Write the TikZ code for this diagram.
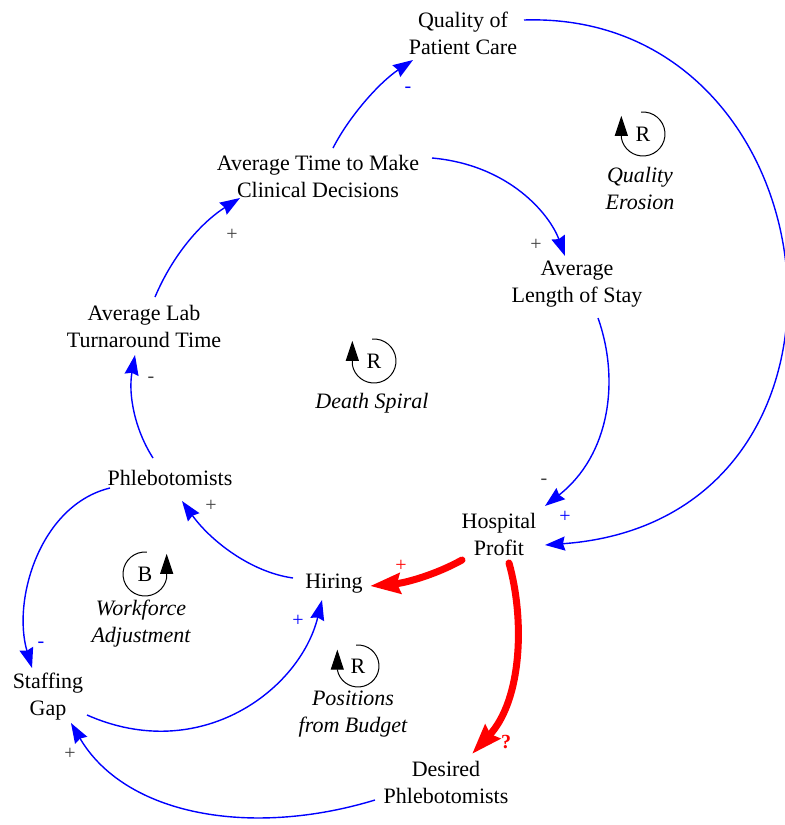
\documentclass[tikz,border=0pt]{standalone}
\usepackage{fontspec}
\setmainfont{Liberation Serif}
\usetikzlibrary{arrows.meta}
\begin{document}
\begin{tikzpicture}[x=0.5pt,y=-0.5pt,
  var/.style={align=center,inner sep=0pt,font=\fontsize{11}{13.5}\selectfont},
  lnk/.style={draw=blue,line width=0.7pt,-{Stealth[length=10pt,width=7pt,inset=1pt]}},
  bigred/.style={draw=red,line width=3.5pt,line cap=round,-{Stealth[length=15pt,width=10pt,inset=1.5pt]}},
  pol/.style={font=\fontsize{10}{12}\selectfont,text=black!75,inner sep=0pt},
  polb/.style={pol,text=blue},
  polr/.style={pol,text=red},
  loopname/.style={align=center,inner sep=0pt,font=\fontsize{11}{13.5}\selectfont\itshape},
  loopc/.style={draw=black,line width=0.5pt,-{Triangle[length=10pt,width=6.5pt]}},
  loopl/.style={inner sep=0pt,font=\fontsize{11}{13.5}\selectfont},
]
\useasboundingbox (0,0) rectangle (785,825);

% variables
\node[var] (qual) at (463,33) {Quality of\\Patient Care};
\node[var] (avgtime) at (318,176) {Average Time to Make\\Clinical Decisions};
\node[var] (los) at (577,284) {Average\\Length of Stay};
\node[var] (lab) at (144,326) {Average Lab\\Turnaround Time};
\node[var] (phleb) at (170,478) {Phlebotomists};
\node[var] (profit) at (499,534) {Hospital\\Profit};
\node[var] (hiring) at (334,584) {Hiring};
\node[var] (gap) at (48,697) {Staffing\\Gap};
\node[var] (desired) at (446,782) {Desired\\Phlebotomists};

% loop markers
\draw[loopc] (643,134) ++(95:11pt) arc[start angle=95,end angle=-170,radius=11pt] -- ++(0,-22);
\node[loopl] (rq) at (643,134) {R};
\node[loopname] (lq) at (640,188) {Quality\\Erosion};

\draw[loopc] (374,361) ++(95:11pt) arc[start angle=95,end angle=-170,radius=11pt] -- ++(0,-24);
\node[loopl] (rd) at (374,361) {R};
\node[loopname] (ld) at (372,403) {Death Spiral};

\draw[loopc] (145,574) ++(85:11pt) arc[start angle=85,end angle=350,radius=11pt] -- ++(0,-24);
\node[loopl] (rb) at (145,574) {B};
\node[loopname] (lb) at (141,624) {Workforce\\Adjustment};

\draw[loopc] (358,666) ++(95:10.5pt) arc[start angle=95,end angle=-170,radius=10.5pt] -- ++(0,-20);
\node[loopl] (rp) at (358,666) {R};
\node[loopname] (lp) at (353,714) {Positions\\from Budget};

% blue links
\draw[lnk] ([shift={(15,-28)}]avgtime.center) .. controls (350,115) and (380,82) .. ([shift={(-50,27)}]qual.center);
\draw[lnk] ([shift={(61,-13)}]qual.center) .. controls (840,10) and (895,520) .. ([shift={(46,11)}]profit.center);
\draw[lnk] ([shift={(114,-18)}]avgtime.center) .. controls (510,165) and (550,215) .. ([shift={(-12,-28)}]los.center);
\draw[lnk] ([shift={(21,34)}]los.center) .. controls (620,380) and (610,455) .. ([shift={(46,-28)}]profit.center);
\draw[lnk] ([shift={(11,-29)}]lab.center) .. controls (175,250) and (205,220) .. ([shift={(-78,22)}]avgtime.center);
\draw[lnk] ([shift={(-17,-20)}]phleb.center) .. controls (135,430) and (128,395) .. ([shift={(-9,29)}]lab.center);
\draw[lnk] ([shift={(-41,-6)}]hiring.center) .. controls (250,572) and (210,540) .. ([shift={(12,23)}]phleb.center);
\draw[lnk] ([shift={(-60,10)}]phleb.center) .. controls (40,505) and (12,600) .. ([shift={(-16,-29)}]gap.center);
\draw[lnk] ([shift={(39,18)}]gap.center) .. controls (200,765) and (300,690) .. ([shift={(-12,16)}]hiring.center);
\draw[lnk] ([shift={(-71,18)}]desired.center) .. controls (250,838) and (125,815) .. ([shift={(23,26)}]gap.center);

% red links
\draw[bigred] ([shift={(-37,26)}]profit.center) .. controls (435,575) and (405,583) .. ([shift={(36,2)}]hiring.center);
\draw[bigred] ([shift={(10,29)}]profit.center) .. controls (525,620) and (522,700) .. ([shift={(26,-28)}]desired.center);

% polarities
\node[polb] (p1) at (408,90) {-};
\node[pol] (p2) at (232,235) {+};
\node[pol] (p3) at (536,245) {+};
\node[pol] (p4) at (151,380) {-};
\node[pol] (p5) at (544,482) {-};
\node[polb] (p6) at (565,517) {+};
\node[pol] (p7) at (211,506) {+};
\node[polb] (p8) at (298,621) {+};
\node[polb] (p9) at (41,645) {-};
\node[pol] (p10) at (70,754) {+};
\node[polr] (p11) at (401,566) {+};
\node[inner sep=0pt,text=red,font=\fontsize{10}{12}\selectfont\bfseries] (p12) at (506,742) {?};
\end{tikzpicture}
\end{document}
